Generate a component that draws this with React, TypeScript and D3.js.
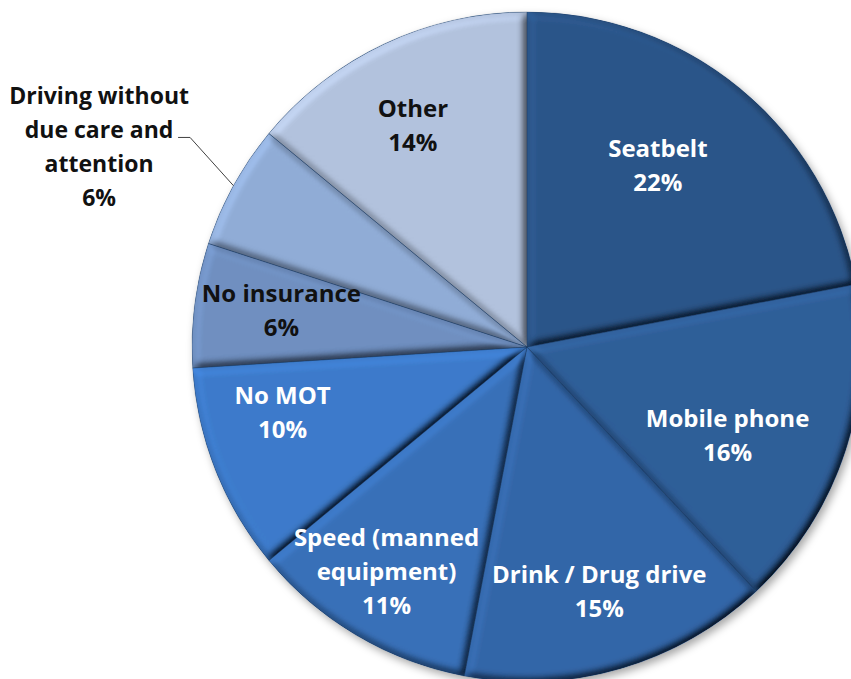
import React from 'react';
import * as d3 from 'd3';

// Offence shares, clockwise from 12 o'clock
const categories = [
  'Seatbelt',
  'Mobile phone',
  'Drink / Drug drive',
  'Speed (manned equipment)',
  'No MOT',
  'No insurance',
  'Driving without due care and attention',
  'Other',
];
const shares = [22, 16, 15, 11, 10, 6, 6, 14];
const labelLines = [
  ['Seatbelt'],
  ['Mobile phone'],
  ['Drink / Drug drive'],
  ['Speed (manned', 'equipment)'],
  ['No MOT'],
  ['No insurance'],
  ['Driving without', 'due care and', 'attention'],
  ['Other'],
];

const WIDTH = 851;
const HEIGHT = 679;
const cx = 527;
const cy = 347;
const R = 335;

const fills = ['#2b5589', '#2f5e98', '#3366a8', '#3870b8', '#3d7bcb', '#6f8fc0', '#90acd6', '#b2c2dd'];
const textFills = ['#fff', '#fff', '#fff', '#fff', '#fff', '#111', '#111', '#111'];
// small nudges so labels sit where Excel's "best fit" put them
const nudge: Record<string, [number, number]> = {
  'Seatbelt': [-25, 7],
  'Mobile phone': [-32, 13],
  'Drink / Drug drive': [4, 10],
  'Speed (manned equipment)': [-16, 14],
  'No MOT': [-17, -24],
  'No insurance': [-3, -6],
  'Driving without due care and attention': [-14, 27],
  'Other': [-10, 0],
};
const outside = new Set(['Driving without due care and attention']);

const LINE_H = 34;

export default function App() {
  const arcs = d3.pie<number>().sort(null).value(d => d)(shares);
  const arc = d3.arc<d3.PieArcDatum<number>>().innerRadius(0).outerRadius(R);
  const labelArc = d3.arc<d3.PieArcDatum<number>>().innerRadius(R * 0.73).outerRadius(R * 0.73);
  const outerArc = d3.arc<d3.PieArcDatum<number>>().innerRadius(R * 1.41).outerRadius(R * 1.41);
  const rimArc = d3.arc<d3.PieArcDatum<number>>().innerRadius(R).outerRadius(R);

  return (
    <svg
      width={WIDTH}
      height={HEIGHT}
      style={{ position: 'absolute', left: 0, top: 0, background: '#fff' }}
      fontFamily="'Open Sans', sans-serif"
    >
      <defs>
        <filter id="bevel" x="-5%" y="-5%" width="110%" height="110%">
          <feGaussianBlur in="SourceAlpha" stdDeviation="4" result="blur" />
          <feDiffuseLighting in="blur" surfaceScale="7" diffuseConstant="1" lightingColor="#fff" result="light">
            <feDistantLight azimuth={225} elevation={55} />
          </feDiffuseLighting>
          <feComposite in="SourceGraphic" in2="light" operator="arithmetic" k1="1.22" k2="0" k3="0" k4="0" result="lit" />
          <feComposite in="lit" in2="SourceAlpha" operator="in" />
        </filter>
        <filter id="shadow" x="-10%" y="-10%" width="120%" height="120%">
          <feDropShadow dx="3" dy="4" stdDeviation="4" floodColor="#000" floodOpacity="0.35" />
        </filter>
      </defs>

      <g transform={`translate(${cx},${cy})`}>
        <circle r={R} fill="#2b5589" filter="url(#shadow)" />
        {arcs.map((a, i) => (
          <path key={categories[i]} d={arc(a) || ''} fill={fills[i]} filter="url(#bevel)" />
        ))}
        {arcs.map((a, i) => (
          <path key={'s' + i} d={arc(a) || ''} fill="none" stroke="#1d3a60" strokeOpacity={0.35} strokeWidth={0.8} />
        ))}

        {arcs.map((a, i) => {
          const name = categories[i];
          const isOut = outside.has(name);
          const [bx, by] = (isOut ? outerArc : labelArc).centroid(a);
          const [nx, ny] = nudge[name] || [0, 0];
          const x = bx + nx;
          const y = by + ny;
          const lines = [...labelLines[i], `${shares[i]}%`];
          const top = y - ((lines.length - 1) * LINE_H) / 2;
          let leader = null;
          if (isOut) {
            const [px, py] = rimArc.centroid(a);
            const ly = top + LINE_H + 8;
            leader = (
              <polyline
                points={`${x + 79},${ly} ${x + 91},${ly} ${px},${py}`}
                fill="none"
                stroke="#404040"
                strokeWidth={1}
              />
            );
          }
          return (
            <g key={'l' + i}>
              {leader}
              <text
                textAnchor="middle"
                fontWeight={700}
                fontSize={isOut ? 23 : 24}
                fill={textFills[i]}
              >
                {lines.map((t, j) => (
                  <tspan key={j} x={x} y={top + j * LINE_H} dy="0.35em">
                    {t}
                  </tspan>
                ))}
              </text>
            </g>
          );
        })}
      </g>
    </svg>
  );
}
